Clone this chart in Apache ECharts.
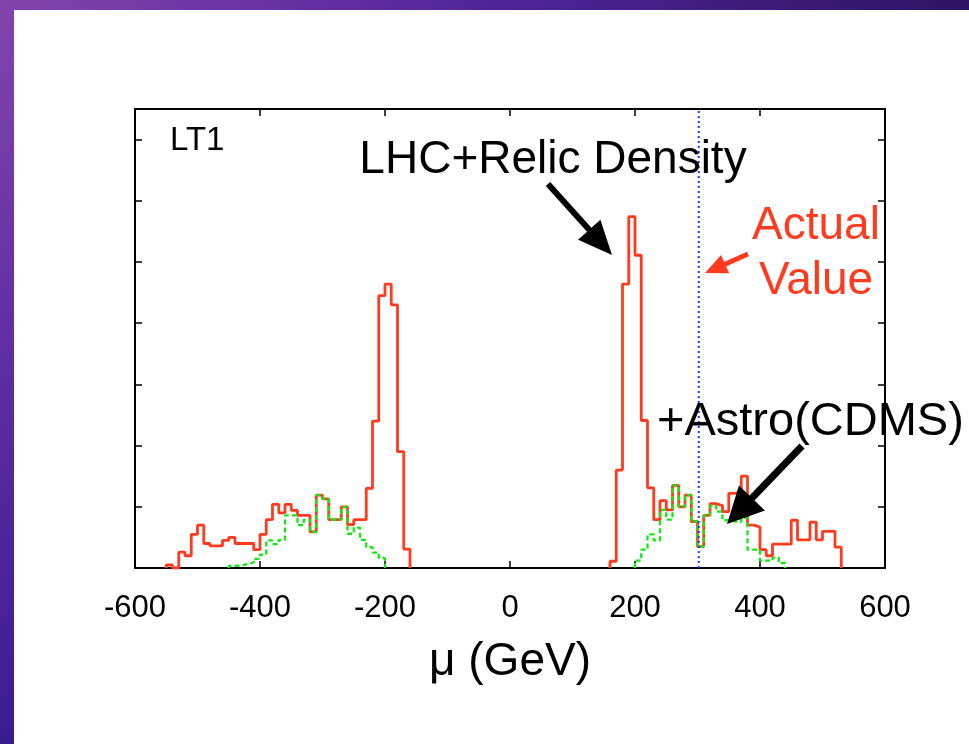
<!DOCTYPE html>
<html>
<head>
<meta charset="utf-8">
<script src="https://cdn.jsdelivr.net/npm/echarts@6/dist/echarts.min.js"></script>
<style>
html,body{margin:0;padding:0;background:#fff;}
#c{width:969px;height:744px;}
</style>
</head>
<body>
<div id="c"></div>
<script>
// ---- data (bin width 10 GeV, values in arbitrary units) ----
const binWidth = 10;
const xTicks = [-600, -400, -200, 0, 200, 400, 600];

const redNegStart = -550;
const redNeg = [0.05, 0, 0.26, 0.20, 0.55, 0.70, 0.40, 0.36, 0.36, 0.45, 0.50, 0.40, 0.40, 0.40, 0.30,
  0.55, 0.79, 1.04, 0.90, 1.04, 0.94, 0.86, 0.86, 0.59, 1.19, 1.13, 0.79, 0.79, 1.00, 0.71, 0.79, 0.79,
  1.30, 2.40, 4.45, 4.64, 4.30, 1.90, 0.31];

const redPosStart = 160;
const redPos = [0.11, 1.60, 4.64, 5.74, 5.11, 2.41, 1.31, 0.79, 1.10, 0.95, 1.35, 1.00, 1.19, 0.76,
  0.35, 0.86, 1.05, 1.02, 0.92, 1.22, 1.25, 1.50, 0.70, 0.67, 0.30, 0.20, 0.39, 0.39, 0.39, 0.78,
  0.46, 0.46, 0.75, 0.46, 0.60, 0.60, 0.34];

const greenNegStart = -450;
const greenNeg = [0.035, 0.04, 0.065, 0.09, 0.15, 0.22, 0.45, 0.39, 0.46, 0.86, 0.86, 0.70, 0.79,
  0.59, 1.19, 1.13, 0.79, 0.79, 1.00, 0.56, 0.66, 0.46, 0.34, 0.25, 0.16];

const greenPosStart = 200;
const greenPos = [0.12, 0.30, 0.55, 0.45, 0.95, 0.79, 1.35, 1.00, 1.19, 0.76, 0.35, 0.86, 1.02,
  0.92, 0.78, 0.76, 0.75, 0.82, 0.30, 0.30, 0.12, 0.12, 0.17, 0.08];

const actualMu = 302;
const yMax = 7.5;

// ---- build step-histogram point lists ----
function histPoints(start, vals) {
  const pts = [[start, 0]];
  vals.forEach((v, i) => pts.push([start + i * binWidth, v]));
  pts.push([start + vals.length * binWidth, 0]);
  return pts;
}

const FONT = "'Liberation Sans', Arial, Helvetica, sans-serif";
const RED = '#ff3a1e';
const GREEN = '#14e814';

const chart = echarts.init(document.getElementById('c'), null, {renderer: 'canvas'});

function histSeries(name, pts, color, dashed) {
  return {
    name: name, type: 'line', step: 'end', data: pts, symbol: 'none', silent: true,
    animation: false, xAxisIndex: 0, yAxisIndex: 0, z: dashed ? 4 : 3,
    lineStyle: {color: color, width: dashed ? 2.3 : 2.8, type: dashed ? [5, 3] : 'solid'}
  };
}

const axisCommon = {
  type: 'value', min: -600, max: 600, interval: 200,
  axisLine: {show: true, onZero: false, lineStyle: {color: '#000', width: 2}},
  axisTick: {show: true, inside: true, length: 7, lineStyle: {color: '#000', width: 1.5}},
  splitLine: {show: false}
};
const yCommon = {
  type: 'value', min: 0, max: yMax, interval: 1,
  axisLine: {show: true, onZero: false, lineStyle: {color: '#000', width: 2}},
  axisTick: {show: true, inside: true, length: 7, lineStyle: {color: '#000', width: 1.5}},
  axisLabel: {show: false},
  splitLine: {show: false}
};

const option = {
  backgroundColor: '#fff',
  animation: false,
  grid: {left: 135, right: 84, top: 109, bottom: 176, containLabel: false},
  xAxis: [
    Object.assign({}, axisCommon, {
      position: 'bottom',
      axisLabel: {show: true, color: '#000', fontSize: 31, fontFamily: FONT, margin: 25,
        formatter: v => xTicks.includes(v) ? String(v) : ''},
      name: 'μ (GeV)', nameLocation: 'middle', nameGap: 71,
      nameTextStyle: {color: '#000', fontSize: 46, fontFamily: FONT}
    }),
    Object.assign({}, axisCommon, {position: 'top', axisLabel: {show: false}})
  ],
  yAxis: [
    Object.assign({}, yCommon, {position: 'left'}),
    Object.assign({}, yCommon, {position: 'right'})
  ],
  series: [
    histSeries('LHC+Relic Density (neg)', histPoints(redNegStart, redNeg), RED, false),
    histSeries('LHC+Relic Density (pos)', histPoints(redPosStart, redPos), RED, false),
    histSeries('+Astro(CDMS) (neg)', histPoints(greenNegStart, greenNeg), GREEN, true),
    histSeries('+Astro(CDMS) (pos)', histPoints(greenPosStart, greenPos), GREEN, true),
    {
      name: 'Actual Value', type: 'line', data: [[actualMu, 0], [actualMu, yMax]], symbol: 'none',
      silent: true, animation: false, z: 5,
      lineStyle: {color: '#2233ff', width: 2, type: [2, 3]}
    }
  ]
};
chart.setOption(option);

// ---- annotations ----
function arrow(x1, y1, x2, y2, color, w, headLen, headW) {
  const dx = x2 - x1, dy = y2 - y1, L = Math.hypot(dx, dy);
  const ux = dx / L, uy = dy / L, px = -uy, py = ux;
  const bx = x2 - ux * headLen, by = y2 - uy * headLen;
  return [
    {type: 'line', shape: {x1: x1, y1: y1, x2: bx + ux * 2, y2: by + uy * 2},
      style: {stroke: color, lineWidth: w}, silent: true, z: 10},
    {type: 'polygon', shape: {points: [[x2, y2], [bx + px * headW / 2, by + py * headW / 2],
      [bx - px * headW / 2, by - py * headW / 2]]}, style: {fill: color}, silent: true, z: 10}
  ];
}

const graphics = [
  {type: 'rect', shape: {x: 0, y: 0, width: 14, height: 744}, silent: true, z: 20,
    style: {fill: new echarts.graphic.LinearGradient(0, 0, 0, 1, [
      {offset: 0, color: '#8244ac'}, {offset: 0.5, color: '#5e2ca4'}, {offset: 1, color: '#3a1c92'}])}},
  {type: 'rect', shape: {x: 0, y: 0, width: 969, height: 10}, silent: true, z: 20,
    style: {fill: new echarts.graphic.LinearGradient(0, 0, 1, 0, [
      {offset: 0, color: '#8244ac'}, {offset: 0.5, color: '#52249a'}, {offset: 1, color: '#2e1462'}])}},
  {type: 'text', left: 170, top: 124, silent: true, z: 10,
    style: {text: 'LT1', fontSize: 33, fontFamily: FONT, fill: '#000'}},
  {type: 'text', x: 553, y: 160, silent: true, z: 10,
    style: {text: 'LHC+Relic Density', fontSize: 46, fontFamily: FONT, fill: '#000',
      align: 'center', verticalAlign: 'middle'}},
  {type: 'text', x: 816, y: 226, silent: true, z: 10,
    style: {text: 'Actual', fontSize: 46, fontFamily: FONT, fill: RED, align: 'center', verticalAlign: 'middle'}},
  {type: 'text', x: 816, y: 281, silent: true, z: 10,
    style: {text: 'Value', fontSize: 46, fontFamily: FONT, fill: RED, align: 'center', verticalAlign: 'middle'}},
  {type: 'text', x: 657, y: 422, silent: true, z: 10,
    style: {text: '+Astro(CDMS)', fontSize: 47, fontFamily: FONT, fill: '#000', align: 'left', verticalAlign: 'middle'}}
].concat(
  arrow(548, 184, 612, 255, '#000', 6, 34, 30),
  arrow(748, 254, 705, 273, RED, 5, 22, 20),
  arrow(802, 446, 727, 524, '#000', 7, 36, 36)
);
chart.setOption({graphic: graphics});
</script>
</body>
</html>
